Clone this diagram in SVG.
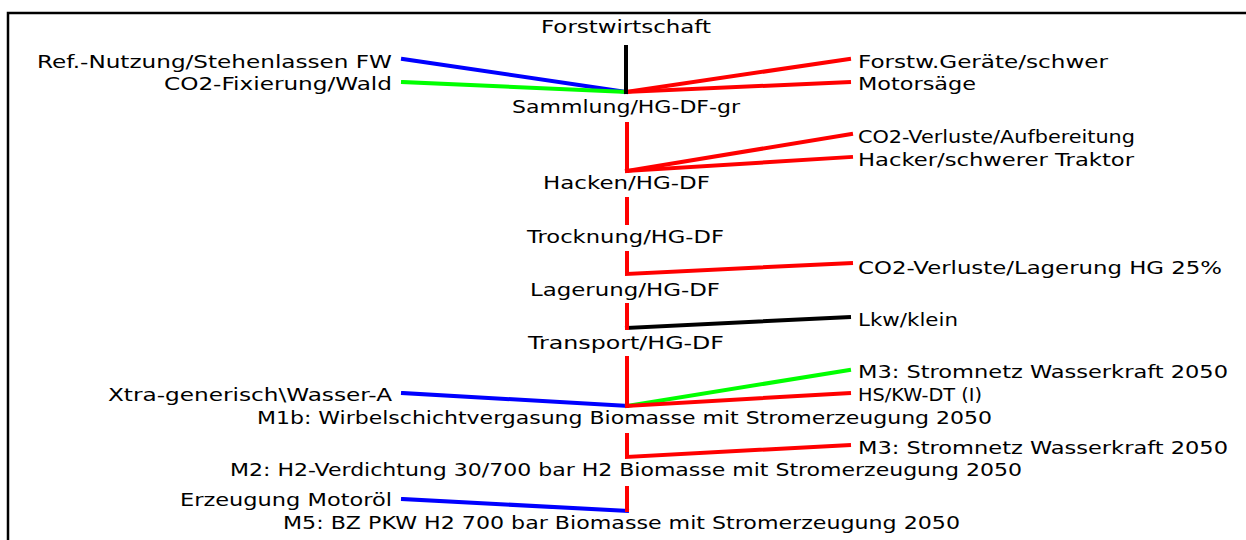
<svg xmlns="http://www.w3.org/2000/svg" width="1246" height="540" viewBox="0 0 1246 540">
<style>
text{font-family:"DejaVu Sans","Verdana",sans-serif;font-size:17px;fill:#000}
.c{fill:none;stroke-width:4;stroke-linecap:square;stroke-linejoin:miter}
.r{stroke:#ff0000}.b{stroke:#0000ff}.g{stroke:#00ff00}.k{stroke:#000}
.frame{stroke:#000;stroke-width:2.5;fill:none}
</style>
<rect width="1246" height="540" fill="#fff"/>
<path class="frame" d="M8 540 V13 H1246"/>
<g id="connectors">
<line class="c b" x1="403" y1="59" x2="626" y2="92"/>
<line class="c g" x1="403" y1="82" x2="626" y2="92"/>
<line class="c r" x1="626" y1="92" x2="849" y2="59"/>
<line class="c r" x1="626" y1="92" x2="849" y2="82"/>
<line class="c k" x1="626" y1="47" x2="626" y2="92"/>
<line class="c r" x1="627" y1="171" x2="851" y2="134"/>
<line class="c r" x1="627" y1="171" x2="851" y2="157"/>
<line class="c r" x1="627" y1="124" x2="627" y2="171"/>
<line class="c r" x1="627" y1="199" x2="627" y2="223"/>
<polyline class="c r" points="627,253 627,274 851,263"/>
<line class="c k" x1="627" y1="328" x2="849" y2="317"/>
<line class="c r" x1="627" y1="305" x2="627" y2="328"/>
<line class="c b" x1="403" y1="393" x2="627" y2="406"/>
<line class="c g" x1="627" y1="406" x2="849" y2="370"/>
<line class="c r" x1="627" y1="406" x2="849" y2="393"/>
<line class="c r" x1="627" y1="358" x2="627" y2="406"/>
<polyline class="c r" points="627,435 627,457 849,445"/>
<line class="c b" x1="403" y1="499" x2="627" y2="511"/>
<line class="c r" x1="627" y1="488" x2="627" y2="510"/>
</g>
<g id="n-forstwirtschaft"><text x="541" y="33" textLength="170" lengthAdjust="spacingAndGlyphs">Forstwirtschaft</text></g>
<g id="n-ref-nutzung"><text x="37" y="68" textLength="355" lengthAdjust="spacingAndGlyphs">Ref.-Nutzung/Stehenlassen FW</text></g>
<g id="n-co2-fixierung"><text x="164" y="90" textLength="228" lengthAdjust="spacingAndGlyphs">CO2-Fixierung/Wald</text></g>
<g id="n-forstw-geraete"><text x="858" y="68" textLength="250" lengthAdjust="spacingAndGlyphs">Forstw.Geräte/schwer</text></g>
<g id="n-motorsaege"><text x="858" y="90" textLength="118" lengthAdjust="spacingAndGlyphs">Motorsäge</text></g>
<g id="n-sammlung"><text x="512" y="113" textLength="228" lengthAdjust="spacingAndGlyphs">Sammlung/HG-DF-gr</text></g>
<g id="n-co2-aufbereitung"><text x="858" y="143" textLength="277" lengthAdjust="spacingAndGlyphs">CO2-Verluste/Aufbereitung</text></g>
<g id="n-hacker"><text x="858" y="166" textLength="276" lengthAdjust="spacingAndGlyphs">Hacker/schwerer Traktor</text></g>
<g id="n-hacken"><text x="543" y="189" textLength="167" lengthAdjust="spacingAndGlyphs">Hacken/HG-DF</text></g>
<g id="n-trocknung"><text x="527" y="243" textLength="197" lengthAdjust="spacingAndGlyphs">Trocknung/HG-DF</text></g>
<g id="n-co2-lagerung"><text x="858" y="274" textLength="364" lengthAdjust="spacingAndGlyphs">CO2-Verluste/Lagerung HG 25%</text></g>
<g id="n-lagerung"><text x="530" y="296" textLength="190" lengthAdjust="spacingAndGlyphs">Lagerung/HG-DF</text></g>
<g id="n-lkw"><text x="858" y="326" textLength="100" lengthAdjust="spacingAndGlyphs">Lkw/klein</text></g>
<g id="n-transport"><text x="528" y="349" textLength="196" lengthAdjust="spacingAndGlyphs">Transport/HG-DF</text></g>
<g id="n-m3-a"><text x="858" y="378" textLength="370" lengthAdjust="spacingAndGlyphs">M3: Stromnetz Wasserkraft 2050</text></g>
<g id="n-xtra"><text x="108" y="401" textLength="284" lengthAdjust="spacingAndGlyphs">Xtra-generisch\Wasser-A</text></g>
<g id="n-hs-kw"><text x="858" y="401" textLength="124" lengthAdjust="spacingAndGlyphs">HS/KW-DT (I)</text></g>
<g id="n-m1b"><text x="257" y="424" textLength="735" lengthAdjust="spacingAndGlyphs">M1b: Wirbelschichtvergasung Biomasse mit Stromerzeugung 2050</text></g>
<g id="n-m3-b"><text x="858" y="454" textLength="370" lengthAdjust="spacingAndGlyphs">M3: Stromnetz Wasserkraft 2050</text></g>
<g id="n-m2"><text x="230" y="476" textLength="792" lengthAdjust="spacingAndGlyphs">M2: H2-Verdichtung 30/700 bar H2 Biomasse mit Stromerzeugung 2050</text></g>
<g id="n-erzeugung"><text x="180" y="506" textLength="212" lengthAdjust="spacingAndGlyphs">Erzeugung Motoröl</text></g>
<g id="n-m5"><text x="283" y="529" textLength="677" lengthAdjust="spacingAndGlyphs">M5: BZ PKW H2 700 bar Biomasse mit Stromerzeugung 2050</text></g>
</svg>
